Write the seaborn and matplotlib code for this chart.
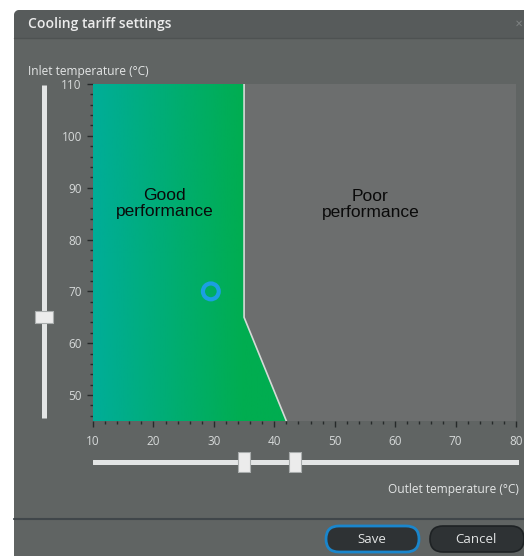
import numpy as np
import matplotlib.pyplot as plt
from matplotlib.colors import LinearSegmentedColormap
from matplotlib.patches import FancyBboxPatch, Polygon, Rectangle
from matplotlib.ticker import MultipleLocator
import seaborn as sns

# chart data
outlet_limits = [10, 80]
inlet_limits = [45, 110]
x_ticks = [10, 20, 30, 40, 50, 60, 70, 80]
y_ticks = [50, 60, 70, 80, 90, 100, 110]
boundary_outlet = [35, 35, 42]
boundary_inlet = [110, 65, 45]
point_outlet = [29.5]
point_inlet = [70]
outlet_thumbs = [35, 43.5]
inlet_thumb = [65]
zone_labels = ["Good\nperformance", "Poor\nperformance"]
zone_x = [21.9, 55.9]
zone_y = [86.9, 86.7]

sns.set_style("dark")
plt.rcParams['font.family'] = ['Open Sans', 'DejaVu Sans']

W, H = 524, 556
fig = plt.figure(figsize=(W / 100, H / 100), dpi=100, facecolor='white')

# dialog background, drawn in pixel units
bg = fig.add_axes([0, 0, 1, 1])
bg.set_xlim(0, W)
bg.set_ylim(H, 0)
bg.axis('off')
bg.add_patch(FancyBboxPatch((14, 10), 540, 570, boxstyle="round,pad=0,rounding_size=6",
                            fc='#606463', ec='none'))
bg.add_patch(FancyBboxPatch((14, 10), 540, 28, boxstyle="round,pad=0,rounding_size=6",
                            fc='#575b5b', ec='none'))
bg.add_patch(Rectangle((14, 24), 540, 14, fc='#575b5b', ec='none'))
bg.plot([14, W], [38, 38], color='#4e5252', lw=1)
bg.text(28, 24, "Cooling tariff settings", color='#ececec', fontsize=10,
        fontweight='semibold', va='center', ha='left')
bg.text(523, 24, "✕", color='#7d8181', fontsize=7, va='center', ha='right',
        family='DejaVu Sans')
bg.text(28, 71, "Inlet temperature (°C)", color='#e4e6e6', fontsize=8.6, va='center', ha='left')
bg.text(519, 490, "Outlet temperature (°C)", color='#e4e6e6', fontsize=8.6, va='center', ha='right')
bg.plot([14, W], [519, 519], color='#40464a', lw=1.5)

# buttons
bg.add_patch(FancyBboxPatch((326, 526), 93, 26, boxstyle="round,pad=0,rounding_size=13",
                            fc='#2e3234', ec='#1a86cc', lw=2))
bg.add_patch(FancyBboxPatch((430, 526), 94, 26, boxstyle="round,pad=0,rounding_size=13",
                            fc='#2e3234', ec='#1e2224', lw=1.2))
bg.text(372, 539.5, "Save", color='#e2e4e4', fontsize=9.5, va='center', ha='center')
bg.text(476, 539.5, "Cancel", color='#e2e4e4', fontsize=9.5, va='center', ha='center')

# main chart
ax = fig.add_axes([93 / W, 1 - 421 / H, 423 / W, 337 / H])
ax.set_facecolor('#6c6e6e')

verts = [(outlet_limits[0], inlet_limits[1])] + list(zip(boundary_outlet, boundary_inlet)) \
    + [(outlet_limits[0], inlet_limits[0])]
poly = Polygon(verts, closed=True, fc='none', ec='none', transform=ax.transData)
ax.add_patch(poly)

cmap = LinearSegmentedColormap.from_list('perf', ['#00ad98', '#00ad50'])
xs = np.linspace(outlet_limits[0], max(boundary_outlet), 400)
shade = np.clip((xs - outlet_limits[0]) / (boundary_outlet[0] - outlet_limits[0]), 0, 1)
im = ax.imshow(shade.reshape(1, -1), extent=[outlet_limits[0], max(boundary_outlet), inlet_limits[0], inlet_limits[1]],
               aspect='auto', cmap=cmap, vmin=0, vmax=1, origin='lower', zorder=1)
im.set_clip_path(poly)

sns.lineplot(x=boundary_outlet, y=boundary_inlet, sort=False, estimator=None,
             color='#d6dad8', lw=1.2, ax=ax, zorder=3)
sns.scatterplot(x=point_outlet, y=point_inlet, s=130, facecolor='none',
                edgecolor='#1b9fe2', linewidth=3, ax=ax, zorder=4)

for lbl, zx, zy in zip(zone_labels, zone_x, zone_y):
    ax.text(zx, zy, lbl, ha='center', va='center', fontsize=12.5, color='#0a0a0a',
            family='Liberation Sans', linespacing=1.08)

ax.set_xlim(outlet_limits)
ax.set_ylim(inlet_limits)
ax.set_xticks(x_ticks)
ax.set_yticks(y_ticks)
ax.xaxis.set_minor_locator(MultipleLocator(2))
ax.yaxis.set_minor_locator(MultipleLocator(2))
ax.tick_params(which='both', direction='out', color='#262a2a', width=1,
               labelcolor='#d6d9d9', labelsize=8.5, bottom=True, left=True)
ax.tick_params(which='major', length=4)
ax.tick_params(which='minor', length=2.5)
ax.tick_params(axis='x', pad=6)
ax.tick_params(axis='y', pad=4)
ax.set_xlabel('')
ax.set_ylabel('')
for s in ax.spines.values():
    s.set_visible(False)
ax.grid(False)

# thumb shape for sliders
tall = [(-0.55, -1), (0.55, -1), (0.55, 1), (-0.55, 1), (-0.55, -1)]
wide = [(-1, -0.6), (1, -0.6), (1, 0.6), (-1, 0.6), (-1, -0.6)]

# horizontal slider (outlet)
hs = fig.add_axes([93 / W, 1 - 472 / H, 426 / W, 20 / H])
hs.set_xlim(outlet_limits[0], outlet_limits[1] + 0.5)
hs.set_ylim(-1, 1)
hs.axis('off')
hs.axhline(0, color='#e3e5e5', lw=3.6)
hs.plot(outlet_thumbs, [0] * len(outlet_thumbs), ls='none', marker=tall, ms=14.5,
        mfc='#ececec', mec='#a9adad', mew=0.8)

# vertical slider (inlet)
vs = fig.add_axes([34 / W, 1 - 421 / H, 20 / W, 337 / H])
vs.set_ylim(inlet_limits)
vs.set_xlim(-1, 1)
vs.axis('off')
vs.plot([0, 0], [inlet_limits[0] + 0.6, inlet_limits[1] - 0.2], color='#e3e5e5', lw=3.6,
        solid_capstyle='butt')
vs.plot([0] * len(inlet_thumb), inlet_thumb, ls='none', marker=wide, ms=13.5,
        mfc='#ececec', mec='#a9adad', mew=0.8)

fig.savefig('out.png', dpi=100, facecolor='white')
